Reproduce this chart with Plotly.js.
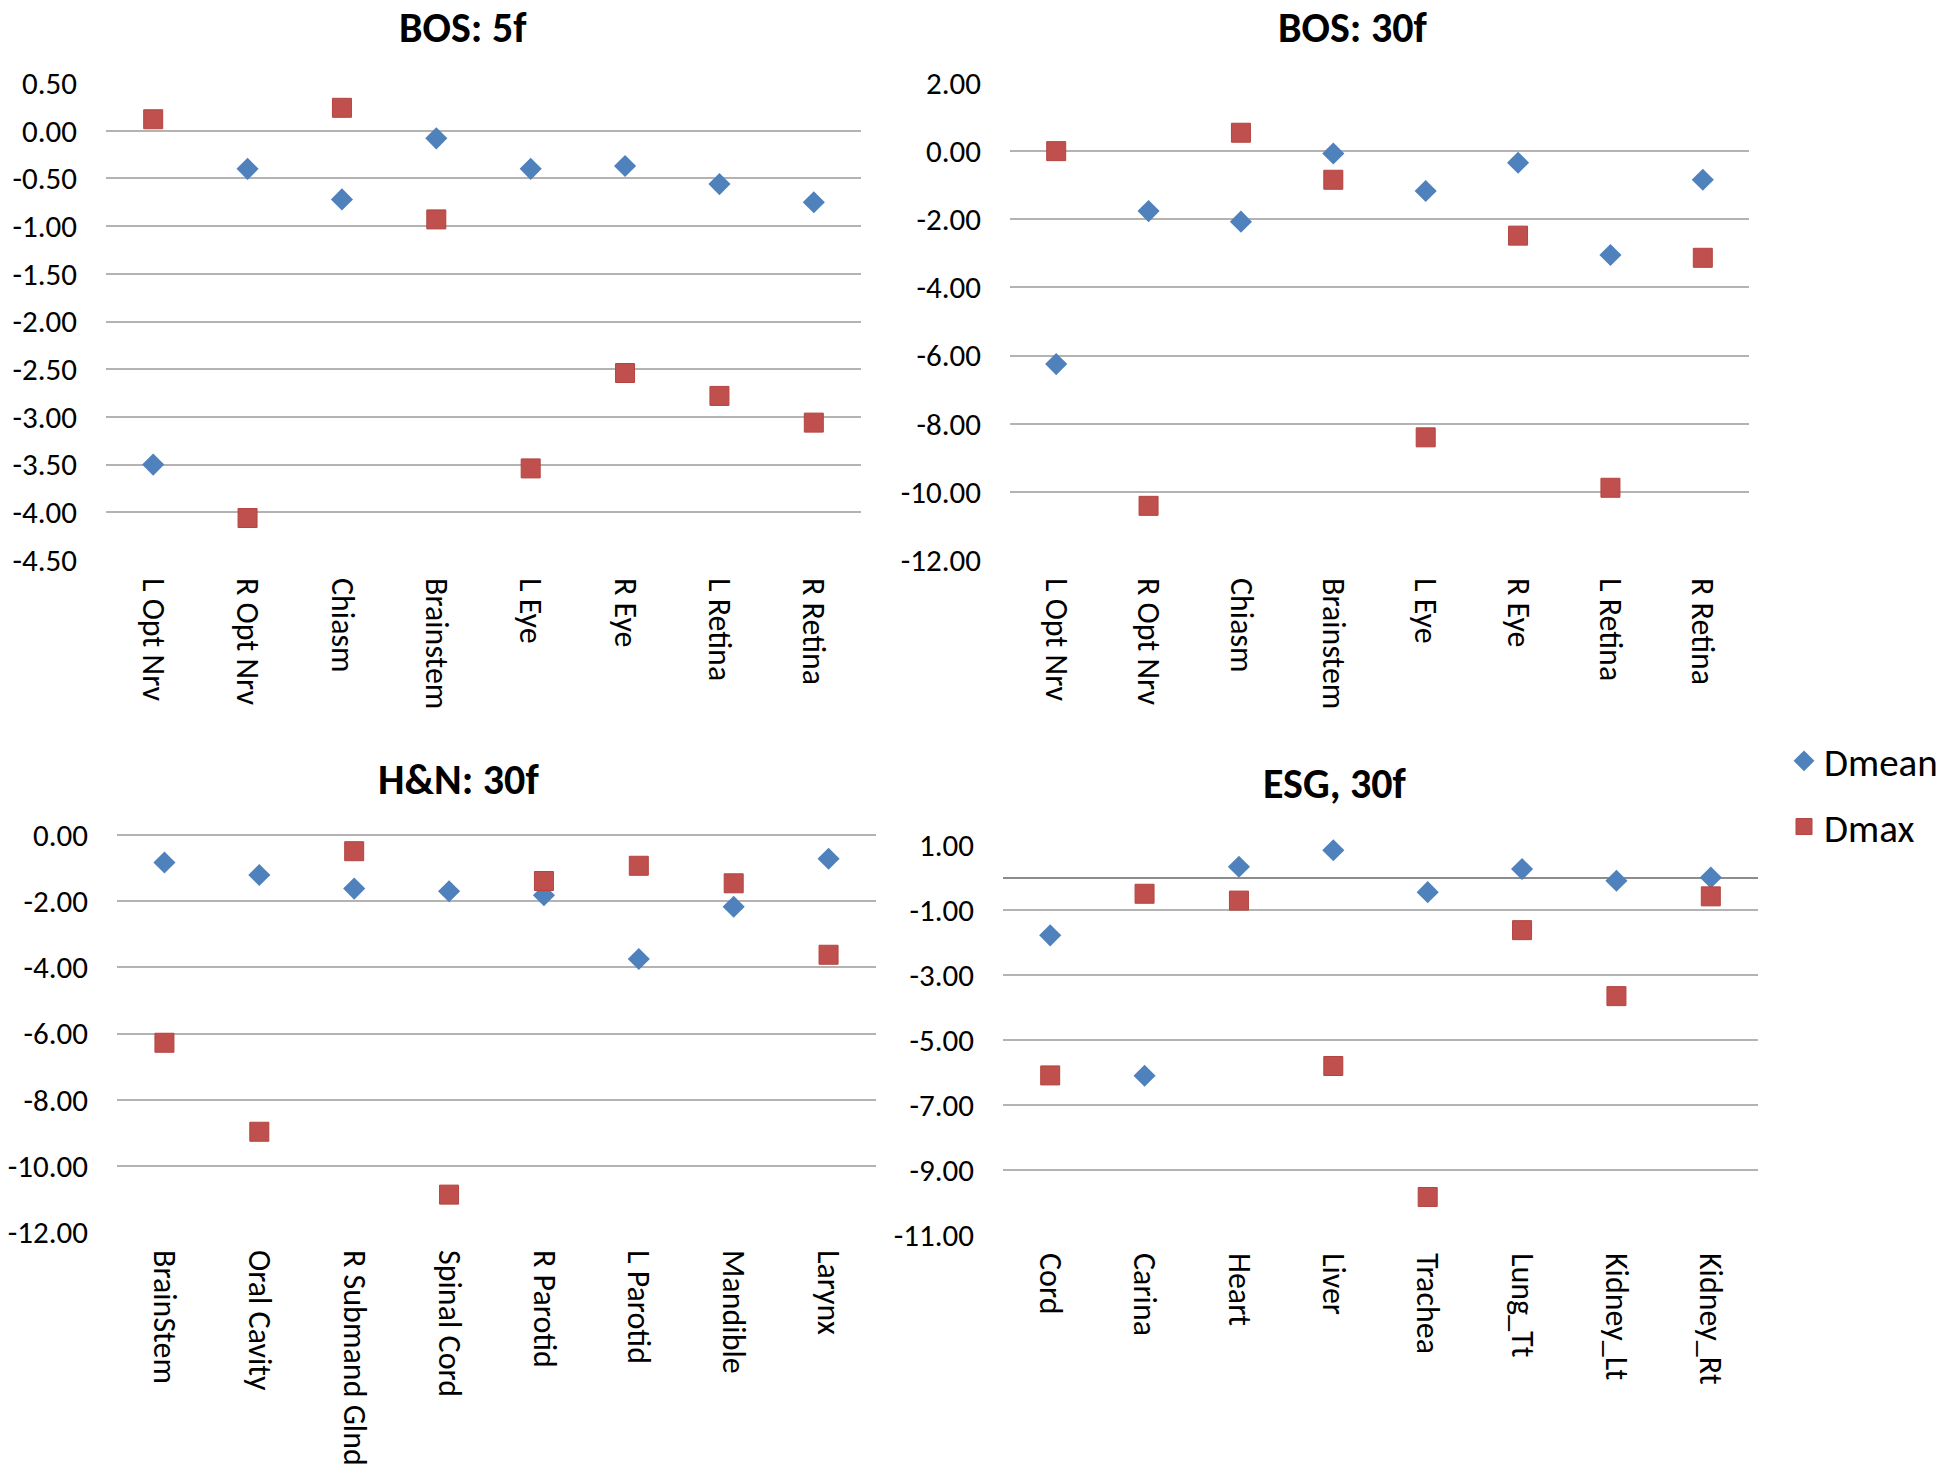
<!DOCTYPE html>
<html>
<head>
<meta charset="utf-8">
<script src="https://cdn.plot.ly/plotly-3.0.1.min.js"></script>
<style>html,body{margin:0;padding:0;background:#fff;}#chart{width:1950px;height:1467px;}</style>
</head>
<body>
<div id="chart"></div>
<script>
// ---- data ----
const bosCats = ["L Opt Nrv", "R Opt Nrv", "Chiasm", "Brainstem", "L Eye", "R Eye", "L Retina", "R Retina"];
const bos5Dmean = [-3.50, -0.40, -0.72, -0.08, -0.40, -0.37, -0.56, -0.75];
const bos5Dmax  = [0.12, -4.06, 0.24, -0.93, -3.54, -2.54, -2.78, -3.06];
const bos30Dmean = [-6.25, -1.76, -2.07, -0.07, -1.17, -0.34, -3.05, -0.84];
const bos30Dmax  = [0.00, -10.41, 0.54, -0.84, -8.40, -2.48, -9.88, -3.13];
const hnCats = ["BrainStem", "Oral Cavity", "R Submand Glnd", "Spinal Cord", "R Parotid", "L Parotid", "Mandible", "Larynx"];
const hnDmean = [-0.83, -1.21, -1.62, -1.70, -1.82, -3.75, -2.17, -0.72];
const hnDmax  = [-6.28, -8.97, -0.49, -10.87, -1.39, -0.93, -1.46, -3.62];
const esgCats = ["Cord", "Carina", "Heart", "Liver", "Trachea", "Lung_Tt", "Kidney_Lt", "Kidney_Rt"];
const esgDmean = [-1.78, -6.10, 0.33, 0.84, -0.45, 0.26, -0.10, 0.00];
const esgDmax  = [-6.09, -0.50, -0.71, -5.80, -9.83, -1.62, -3.65, -0.58];
const titles = ["BOS: 5f", "BOS: 30f", "H&N: 30f", "ESG, 30f"];
const seriesNames = ["Dmean", "Dmax"];
const ticks1 = [0.5, 0, -0.5, -1, -1.5, -2, -2.5, -3, -3.5, -4, -4.5];
const ticks2 = [2, 0, -2, -4, -6, -8, -10, -12];
const ticks3 = [0, -2, -4, -6, -8, -10, -12];
const ticks4 = [1, -1, -3, -5, -7, -9, -11];

// ---- styling ----
const W = 1950, H = 1467;
const FONT = "Carlito, 'Open Sans', 'Noto Sans', sans-serif";
const blue = "#4F81BD", red = "#C0504D";
const gridColor = "#b3b3b3";

function px(x) { return x / W; }
function py(y) { return 1 - y / H; }

const panels = [
  {cats: bosCats, mean: bos5Dmean, max: bos5Dmax, ticks: ticks1, box: [106, 861, 83, 560], title: [463, 27]},
  {cats: bosCats, mean: bos30Dmean, max: bos30Dmax, ticks: ticks2, box: [1010, 1749, 83, 560], title: [1352, 27]},
  {cats: hnCats, mean: hnDmean, max: hnDmax, ticks: ticks3, box: [117, 876, 835, 1232], title: [458, 779]},
  {cats: esgCats, mean: esgDmean, max: esgDmax, ticks: ticks4, box: [1003, 1758, 845, 1235], title: [1335, 783]}
];

const traces = [];
const layout = {
  width: W, height: H,
  margin: {l: 0, r: 0, t: 0, b: 0},
  paper_bgcolor: "#fff", plot_bgcolor: "#fff",
  font: {family: FONT, color: "#000", size: 31},
  showlegend: true,
  legend: {
    x: px(1784), y: py(729), xanchor: "left", yanchor: "top",
    font: {family: FONT, size: 39, color: "#000"},
    traceorder: "grouped", tracegroupgap: 12,
    bgcolor: "rgba(0,0,0,0)"
  },
  annotations: []
};

panels.forEach((p, i) => {
  const n = i === 0 ? "" : String(i + 1);
  const xa = "x" + n, ya = "y" + n;
  traces.push({
    type: "scatter", mode: "markers", x: p.cats, y: p.mean, xaxis: xa, yaxis: ya,
    name: seriesNames[0], legendgroup: "a", showlegend: i === 0,
    marker: {symbol: "diamond", size: 17, color: blue, line: {width: 0}},
    cliponaxis: false, hoverinfo: "x+y"
  });
  traces.push({
    type: "scatter", mode: "markers", x: p.cats, y: p.max, xaxis: xa, yaxis: ya,
    name: seriesNames[1], legendgroup: "b", showlegend: i === 0,
    marker: {symbol: "square", size: 19, color: red, line: {width: 1, color: "#b4443f"}},
    cliponaxis: false, hoverinfo: "x+y"
  });
  const [x0, x1, y0, y1] = p.box;
  const tv = p.ticks;
  layout["xaxis" + n] = {
    domain: [px(x0), px(x1)], anchor: ya, type: "category",
    range: [-0.5, p.cats.length - 0.5],
    showgrid: false, showline: false, zeroline: false, ticks: "",
    tickangle: 90, ticklabelstandoff: 17,
    tickfont: {family: FONT, size: 32, color: "#000"}
  };
  layout["yaxis" + n] = {
    domain: [py(y1), py(y0)], anchor: xa,
    range: [Math.min(...tv), Math.max(...tv)],
    tickvals: tv, ticktext: tv.map(v => v.toFixed(2)),
    showgrid: true, gridcolor: gridColor, gridwidth: 2,
    zeroline: true, zerolinecolor: i === 3 ? "#8c8c8c" : gridColor, zerolinewidth: 2,
    showline: false, ticks: "", ticklabelstandoff: 28,
    tickfont: {family: FONT, size: 31, color: "#000"}
  };
  layout.annotations.push({
    text: "<b>" + titles[i] + "</b>", xref: "paper", yref: "paper",
    x: px(p.title[0]), y: py(p.title[1]), xanchor: "center", yanchor: "middle",
    showarrow: false, font: {family: FONT, size: 42, color: "#000"}
  });
});

Plotly.newPlot("chart", traces, layout, {staticPlot: true, displayModeBar: false});
</script>
</body>
</html>
